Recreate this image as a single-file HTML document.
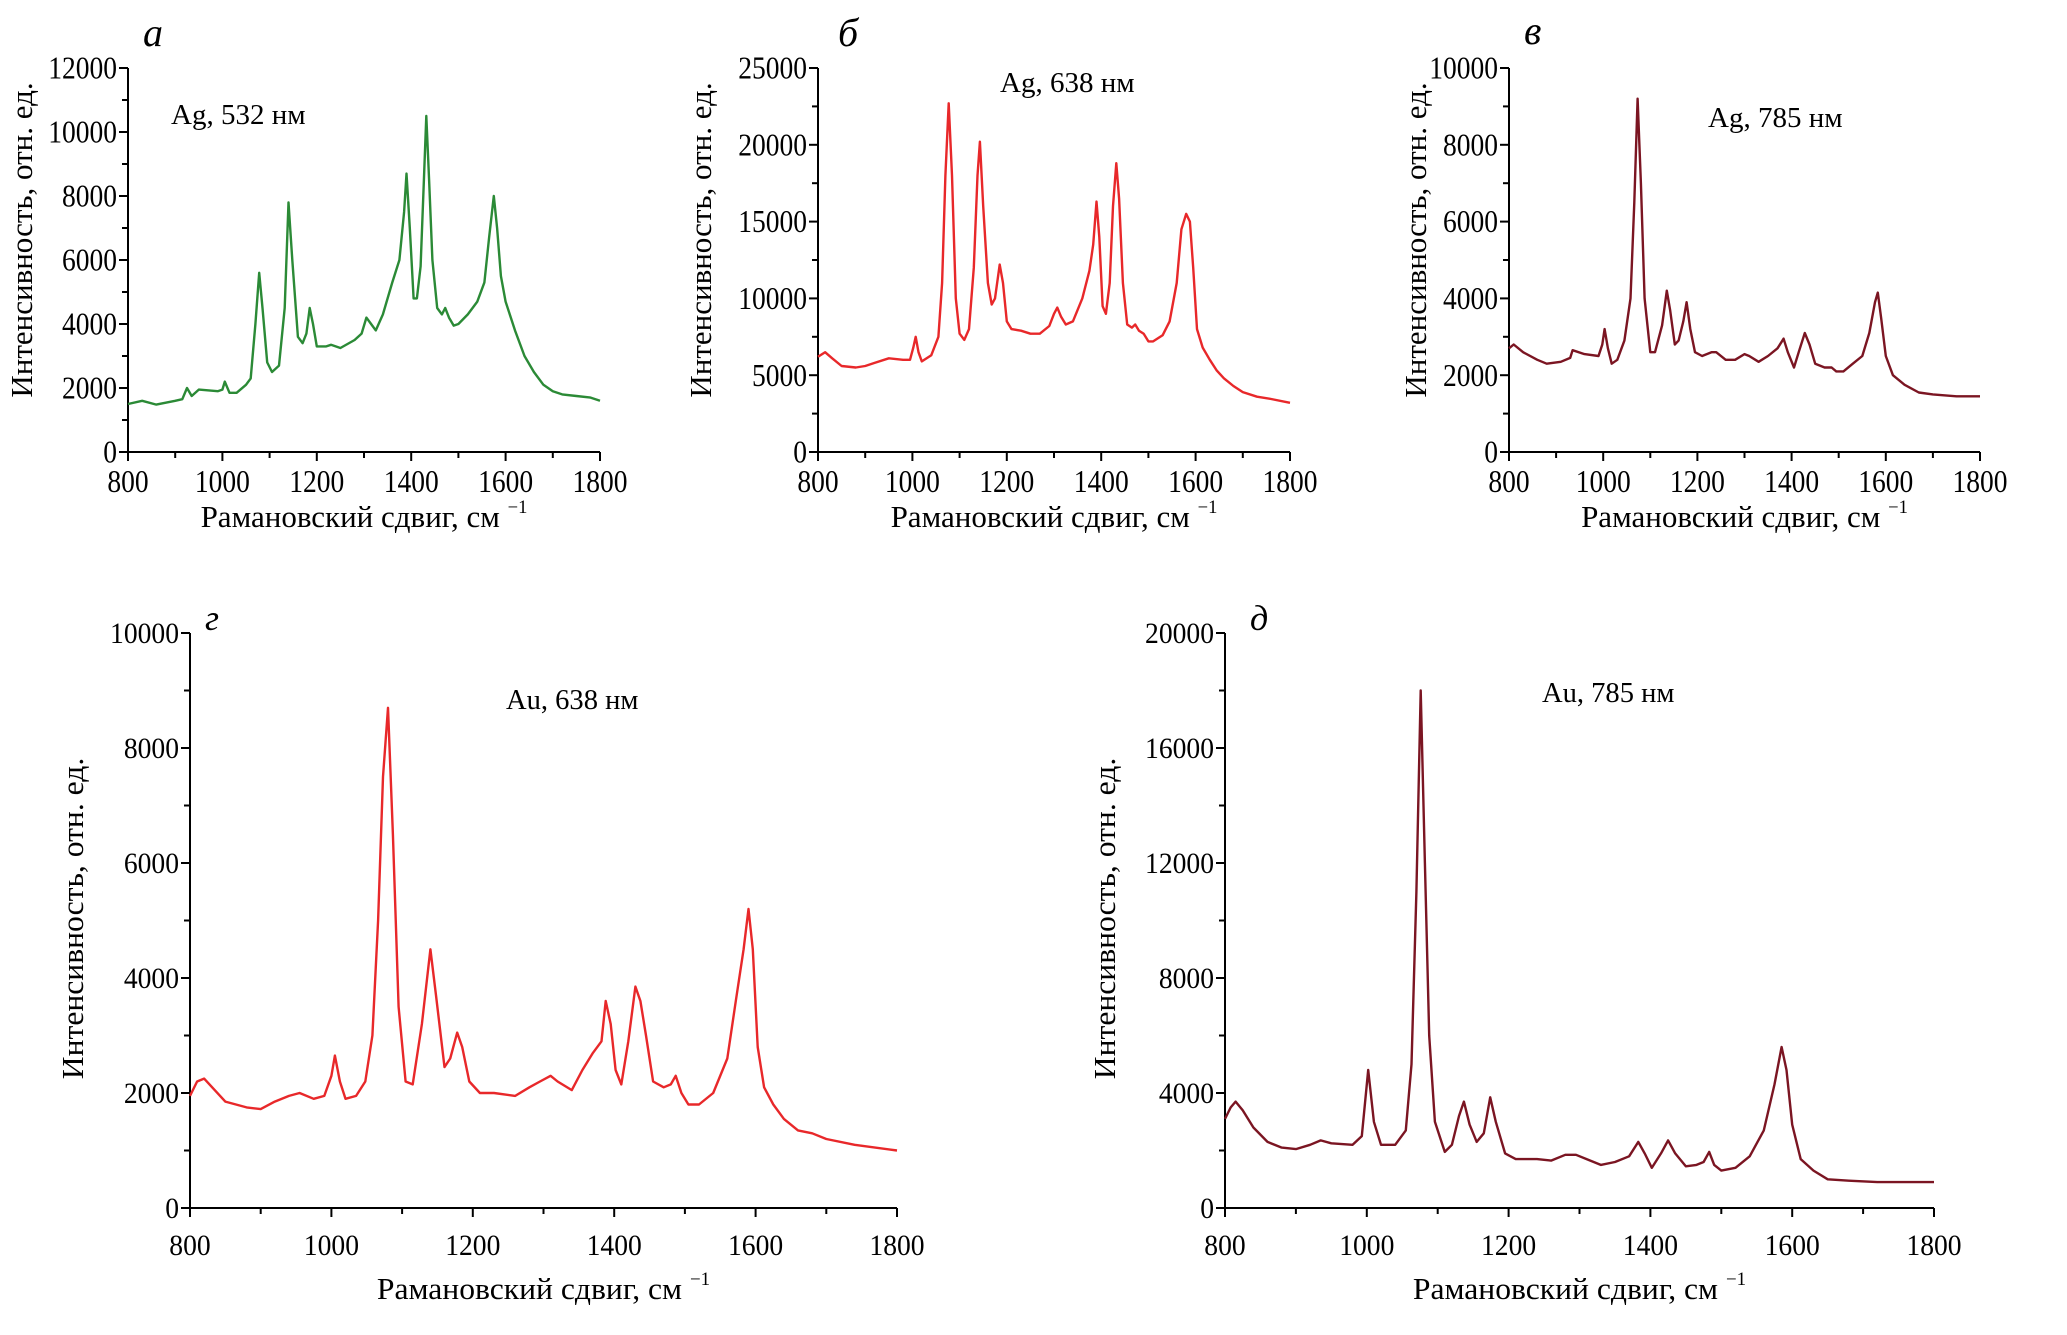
<!DOCTYPE html>
<html><head><meta charset="utf-8">
<style>
html,body{margin:0;padding:0;background:#fff;}
svg{display:block;}
text{font-family:"Liberation Serif","DejaVu Serif",serif;fill:#000;}
</style></head>
<body>
<svg id="fig" width="2067" height="1335" viewBox="0 0 2067 1335" xmlns="http://www.w3.org/2000/svg"></svg>
<script>
// ---- data ----
const shiftA = [800,830,860,900,915,925,935,950,990,1000,1005,1015,1030,1050,1060,1070,1078,1085,1095,1105,1120,1132,1140,1148,1160,1170,1178,1185,1192,1200,1220,1230,1250,1280,1295,1305,1315,1325,1340,1360,1375,1385,1390,1397,1405,1412,1420,1427,1432,1438,1445,1455,1465,1472,1480,1490,1500,1520,1540,1555,1565,1575,1582,1590,1600,1620,1640,1660,1680,1700,1720,1750,1780,1800];
const intensityA = [1500,1600,1480,1600,1650,2000,1750,1950,1900,1950,2200,1850,1850,2100,2300,4000,5600,4500,2800,2500,2700,4500,7800,6000,3600,3400,3700,4500,4000,3300,3300,3350,3250,3500,3700,4200,4000,3800,4300,5300,6000,7500,8700,7000,4800,4800,5800,8500,10500,8500,6000,4500,4300,4500,4200,3950,4000,4300,4700,5300,6700,8000,7000,5500,4700,3800,3000,2500,2100,1900,1800,1750,1700,1600];

const shiftB = [800,815,830,850,880,900,920,950,980,995,1002,1007,1013,1020,1040,1055,1063,1070,1077,1084,1092,1100,1110,1120,1130,1138,1143,1150,1160,1168,1175,1185,1192,1200,1210,1230,1250,1270,1290,1300,1307,1315,1325,1340,1360,1375,1383,1390,1396,1403,1410,1418,1425,1432,1438,1446,1455,1465,1472,1480,1490,1500,1510,1530,1545,1560,1570,1580,1588,1595,1603,1615,1630,1645,1660,1680,1700,1730,1760,1800];
const intensityB = [6200,6500,6100,5600,5500,5600,5800,6100,6000,6000,6800,7500,6500,5900,6300,7500,11000,18000,22700,18000,10000,7700,7300,8000,12000,18000,20200,16000,11000,9600,10000,12200,11000,8500,8000,7900,7700,7700,8200,9000,9400,8800,8300,8500,10000,11800,13500,16300,14000,9500,9000,11000,16000,18800,16500,11000,8300,8100,8300,7900,7700,7200,7200,7600,8500,11000,14500,15500,15000,12000,8000,6800,6000,5300,4800,4300,3900,3600,3450,3200];

const shiftC = [800,810,830,860,880,910,930,935,960,990,998,1003,1010,1018,1030,1045,1058,1066,1073,1080,1088,1100,1110,1125,1135,1142,1152,1160,1170,1177,1185,1195,1210,1230,1240,1260,1280,1300,1310,1330,1350,1370,1383,1392,1405,1415,1428,1438,1450,1470,1485,1495,1510,1530,1550,1565,1577,1583,1590,1600,1615,1640,1670,1700,1750,1800];
const intensityC = [2700,2800,2600,2400,2300,2350,2450,2650,2550,2500,2800,3200,2700,2300,2400,2900,4000,6500,9200,7000,4000,2600,2600,3300,4200,3700,2800,2900,3400,3900,3200,2600,2500,2600,2600,2400,2400,2550,2500,2350,2500,2700,2950,2600,2200,2600,3100,2800,2300,2200,2200,2100,2100,2300,2500,3100,3900,4150,3500,2500,2000,1750,1550,1500,1450,1450];

const shiftD = [800,810,820,835,850,880,900,920,940,955,975,990,1000,1005,1012,1020,1035,1048,1058,1066,1073,1080,1087,1095,1105,1115,1128,1140,1148,1160,1168,1178,1185,1195,1210,1230,1260,1280,1295,1310,1320,1340,1355,1370,1382,1388,1395,1402,1410,1420,1430,1437,1445,1455,1470,1480,1487,1495,1505,1520,1540,1560,1572,1583,1590,1596,1603,1612,1625,1640,1660,1680,1700,1740,1800];
const intensityD = [1950,2200,2250,2050,1850,1750,1720,1850,1950,2000,1900,1950,2300,2650,2200,1900,1950,2200,3000,5000,7500,8700,6500,3500,2200,2150,3200,4500,3700,2450,2600,3050,2800,2200,2000,2000,1950,2100,2200,2300,2200,2050,2400,2700,2900,3600,3200,2400,2150,2900,3850,3600,3000,2200,2100,2150,2300,2000,1800,1800,2000,2600,3600,4500,5200,4500,2800,2100,1800,1550,1350,1300,1200,1100,1000];

const shiftE = [800,808,815,825,840,860,880,900,920,935,950,980,993,1002,1010,1020,1040,1055,1063,1070,1076,1082,1088,1096,1110,1120,1130,1137,1145,1155,1165,1174,1182,1195,1210,1240,1260,1280,1295,1310,1330,1350,1370,1383,1392,1402,1415,1425,1435,1450,1465,1475,1483,1490,1500,1520,1540,1560,1575,1585,1592,1600,1612,1630,1650,1680,1720,1760,1800];
const intensityE = [3100,3500,3700,3400,2800,2300,2100,2050,2200,2350,2250,2200,2500,4800,3000,2200,2200,2700,5000,11000,18000,12000,6000,3000,1950,2200,3200,3700,2900,2300,2600,3850,3000,1900,1700,1700,1650,1850,1850,1700,1500,1600,1800,2300,1900,1400,1900,2350,1900,1450,1500,1600,1950,1500,1300,1400,1800,2700,4300,5600,4800,2900,1700,1300,1000,950,900,900,900];

const xTickLabels = ["800","1000","1200","1400","1600","1800"];
const yTicksA = ["0","2000","4000","6000","8000","10000","12000"];
const yTicksB = ["0","5000","10000","15000","20000","25000"];
const yTicksC = ["0","2000","4000","6000","8000","10000"];
const yTicksD = ["0","2000","4000","6000","8000","10000"];
const yTicksE = ["0","4000","8000","12000","16000","20000"];

// ---- drawing ----
const NS = "http://www.w3.org/2000/svg";
const svg = document.getElementById("fig");
function mk(tag, attrs, parent){
  const e = document.createElementNS(NS, tag);
  for (const k in attrs) e.setAttribute(k, attrs[k]);
  (parent||svg).appendChild(e);
  return e;
}
function txt(parent, x, y, s, size, anchor, sx){
  const g = mk("g", {transform:`translate(${x},${y}) scale(${sx},1)`}, parent);
  const t = mk("text", {x:0,y:0,"font-size":size,"text-anchor":anchor}, g);
  t.textContent = s;
  return t;
}

function panel(cfg){
  const g = mk("g", {});
  
  
  const L=cfg.left, R=cfg.right, T=cfg.top, B=cfg.bottom;
  const xs = v => L + (v-800)/1000*(R-L);
  const ymax = +cfg.yTicks[cfg.yTicks.length-1];
  const ys = v => B - v/ymax*(B-T);
  const fs = cfg.fs, sx = cfg.sx;

  const ax = mk("path", {d:`M${L},${T} L${L},${B} L${R},${B}`, fill:"none", stroke:"#000","stroke-width":2}, g);
  
  

  for (let v=800; v<=1800; v+=100){
    const major = (v%200===0);
    const tk = mk("line", {x1:xs(v),x2:xs(v),y1:B,y2:B+(major?9:6),stroke:"#000","stroke-width":2}, g);
    
    
  }
  xTickLabels.forEach(s=>{
    const t = txt(g, xs(+s), cfg.xLabelY, s, fs, "middle", sx);
    
    
  });
  const step = (+cfg.yTicks[1]);
  for (let v=0; v<=ymax+1; v+=step/2){
    const major = Math.abs(v/step - Math.round(v/step))<1e-6;
    const tk = mk("line", {x1:L-(major?9:6),x2:L,y1:ys(v),y2:ys(v),stroke:"#000","stroke-width":2}, g);
    
    
  }
  cfg.yTicks.forEach(s=>{
    const t = txt(g, L-11, ys(+s)+fs*0.33, s, fs, "end", sx);
    
    
  });
  const xtg = mk("g", {transform:`translate(${(L+R)/2},${cfg.xTitleY}) scale(${cfg.tsx},1)`}, g);
  const xt = mk("text", {x:0,y:0,"font-size":cfg.tfs,"text-anchor":"middle"}, xtg);
  
  
  xt.appendChild(document.createTextNode("Рамановский сдвиг, см "));
  const sup = mk("tspan", {"font-size":cfg.tfs*0.6, dy:-cfg.tfs*0.45}, xt);
  sup.textContent = "−1";

  const ytg = mk("g", {transform:`translate(${cfg.yTitleX},${(T+B)/2+cfg.yTitleDy}) rotate(-90) scale(${cfg.tsx},1)`}, g);
  const yt = mk("text", {x:0,y:0,"font-size":cfg.tfs,"text-anchor":"middle"}, ytg);
  yt.textContent = "Интенсивность, отн. ед.";
  
  

  const pl = mk("text", {x:cfg.letterX,y:cfg.letterY,"font-size":cfg.lfs,"font-style":"italic"}, g);
  pl.textContent = cfg.letter;
  
  
  const an = txt(g, cfg.annX, cfg.annY, cfg.ann, cfg.afs, "start", cfg.tsx);
  
  

  let d = "";
  cfg.xd.forEach((x,i)=>{ d += (i?"L":"M") + xs(x).toFixed(1) + "," + ys(cfg.yd[i]).toFixed(1) + " "; });
  const line = mk("path", {d:d, fill:"none", stroke:cfg.color, "stroke-width":2.4, "stroke-linejoin":"round"}, g);
  
  
}

panel({name:"panel-a-ag-532", left:128,right:600,top:68,bottom:452, yTicks:yTicksA, xd:shiftA, yd:intensityA, color:"#2b8a36",
  fs:32, sx:0.86, tfs:31, tsx:1.0, xLabelY:492, xTitleY:527, yTitleX:32, yTitleDy:-20, letter:"а", letterX:143, letterY:46, lfs:40,
  ann:"Ag, 532 нм", annX:171, annY:124, afs:29});
panel({name:"panel-b-ag-638", left:818,right:1290,top:68,bottom:452, yTicks:yTicksB, xd:shiftB, yd:intensityB, color:"#e8282a",
  fs:32, sx:0.86, tfs:31, tsx:1.0, xLabelY:492, xTitleY:527, yTitleX:711, yTitleDy:-20, letter:"б", letterX:838, letterY:46, lfs:40,
  ann:"Ag, 638 нм", annX:1000, annY:92, afs:29});
panel({name:"panel-c-ag-785", left:1509,right:1980,top:68,bottom:452, yTicks:yTicksC, xd:shiftC, yd:intensityC, color:"#7b1522",
  fs:32, sx:0.86, tfs:31, tsx:1.0, xLabelY:492, xTitleY:527, yTitleX:1426, yTitleDy:-20, letter:"в", letterX:1524, letterY:44, lfs:40,
  ann:"Ag, 785 нм", annX:1708, annY:127, afs:29});
panel({name:"panel-d-au-638", left:190,right:897,top:633,bottom:1208, yTicks:yTicksD, xd:shiftD, yd:intensityD, color:"#e8282a",
  fs:30, sx:0.92, tfs:31, tsx:1.02, xLabelY:1255, xTitleY:1299, yTitleX:83, yTitleDy:-2, letter:"г", letterX:205, letterY:630, lfs:36,
  ann:"Au, 638 нм", annX:506, annY:709, afs:28});
panel({name:"panel-e-au-785", left:1225,right:1934,top:633,bottom:1208, yTicks:yTicksE, xd:shiftE, yd:intensityE, color:"#7b1522",
  fs:30, sx:0.92, tfs:31, tsx:1.02, xLabelY:1255, xTitleY:1299, yTitleX:1115, yTitleDy:-2, letter:"д", letterX:1250, letterY:630, lfs:36,
  ann:"Au, 785 нм", annX:1542, annY:702, afs:28});
</script>
</body></html>
